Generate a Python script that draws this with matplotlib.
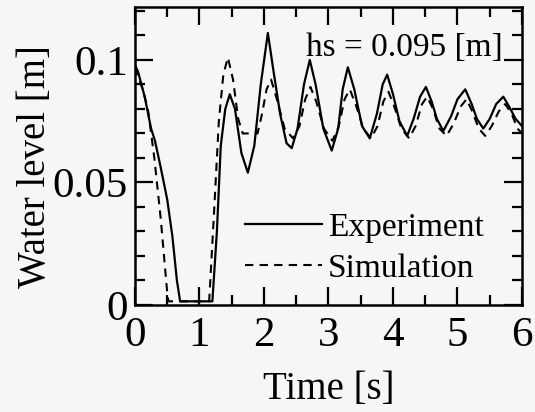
import matplotlib.pyplot as plt
from matplotlib.ticker import MultipleLocator

# experiment (solid)
exp_t = [0.00, 0.05, 0.15, 0.25, 0.31, 0.40, 0.50, 0.58, 0.65, 0.70, 1.20, 1.27,
         1.33, 1.40, 1.47, 1.55, 1.65, 1.75, 1.85, 1.95, 2.06, 2.15, 2.25, 2.35,
         2.43, 2.52, 2.62, 2.71, 2.80, 2.92, 3.05, 3.15, 3.22, 3.30, 3.40, 3.52,
         3.64, 3.75, 3.84, 3.91, 4.00, 4.10, 4.22, 4.32, 4.42, 4.51, 4.60, 4.68,
         4.78, 4.90, 5.00, 5.12, 5.22, 5.30, 5.40, 5.50, 5.60, 5.71, 5.80, 5.90, 6.00]
exp_h = [0.098, 0.095, 0.085, 0.072, 0.067, 0.056, 0.043, 0.028, 0.010, 0.0015, 0.0015, 0.030,
         0.065, 0.080, 0.086, 0.080, 0.062, 0.054, 0.065, 0.090, 0.111, 0.095, 0.078, 0.066,
         0.064, 0.072, 0.090, 0.100, 0.090, 0.072, 0.063, 0.072, 0.088, 0.097, 0.088, 0.073,
         0.068, 0.078, 0.090, 0.094, 0.086, 0.075, 0.069, 0.076, 0.085, 0.089, 0.083, 0.076,
         0.071, 0.077, 0.084, 0.088, 0.082, 0.076, 0.072, 0.076, 0.082, 0.085, 0.081, 0.076, 0.073]

# simulation (dashed)
sim_t = [0.00, 0.05, 0.12, 0.20, 0.25, 0.30, 0.34, 0.40, 0.45, 0.50, 0.52, 1.15,
         1.22, 1.30, 1.37, 1.44, 1.52, 1.60, 1.67, 1.90, 1.97, 2.04, 2.11, 2.20,
         2.32, 2.45, 2.55, 2.64, 2.72, 2.81, 2.93, 3.06, 3.16, 3.25, 3.33, 3.42,
         3.54, 3.66, 3.76, 3.85, 3.93, 4.02, 4.13, 4.25, 4.35, 4.45, 4.53, 4.62,
         4.72, 4.83, 4.94, 5.05, 5.14, 5.23, 5.33, 5.43, 5.53, 5.64, 5.74, 5.84,
         5.93, 6.00]
sim_h = [0.097, 0.093, 0.088, 0.080, 0.070, 0.060, 0.050, 0.035, 0.020, 0.005, 0.0015, 0.0015,
         0.035, 0.075, 0.094, 0.101, 0.092, 0.076, 0.070, 0.070, 0.078, 0.088, 0.092, 0.084,
         0.072, 0.068, 0.073, 0.084, 0.089, 0.083, 0.072, 0.067, 0.073, 0.084, 0.088, 0.082,
         0.072, 0.068, 0.073, 0.083, 0.087, 0.081, 0.072, 0.068, 0.073, 0.082, 0.085, 0.080,
         0.072, 0.069, 0.074, 0.081, 0.084, 0.079, 0.072, 0.069, 0.073, 0.079, 0.082, 0.078,
         0.072, 0.070]

plt.rcParams["font.family"] = ["Liberation Serif", "DejaVu Serif"]

fig = plt.figure(figsize=(5.35, 4.12), dpi=100)
fig.patch.set_facecolor("#f6f6f6")
ax = fig.add_axes([0.2523, 0.2597, 0.7234, 0.7233])
ax.set_facecolor("#f6f6f6")

ax.plot(exp_t, exp_h, color="black", lw=1.6, label="Experiment")
ax.plot(sim_t, sim_h, color="black", lw=1.5, ls=(0, (4, 3)), label="Simulation")

ax.set_xlim(0, 6)
ax.set_ylim(0, 0.1216)
ax.xaxis.set_major_locator(MultipleLocator(1))
ax.xaxis.set_minor_locator(MultipleLocator(0.5))
ax.yaxis.set_minor_locator(MultipleLocator(0.01))
ax.set_yticks([0, 0.05, 0.1])
ax.set_yticklabels(["0", "0.05", "0.1"])
ax.tick_params(which="both", direction="in", top=True, right=True, width=1.6,
               labelsize=31)
ax.tick_params(axis="x", pad=8)
ax.tick_params(axis="y", pad=5)
ax.tick_params(which="major", length=13)
ax.tick_params(which="minor", length=7)
for s in ax.spines.values():
    s.set_linewidth(1.8)

ax.set_xlabel("Time [s]", fontsize=28, labelpad=12)
ax.set_ylabel("Water level [m]", fontsize=28)
ax.yaxis.set_label_coords(-0.21, 0.463)

ax.text(5.705, 0.105, "hs = 0.095 [m]", fontsize=24, ha="right", va="center")

ax.legend(frameon=False, fontsize=24, loc="upper left",
          bbox_to_anchor=(0.284, 0.31), borderpad=0, borderaxespad=0,
          handlelength=2.3, handletextpad=0.2, labelspacing=0.3)

fig.savefig("out.png", dpi=100, facecolor=fig.get_facecolor())
